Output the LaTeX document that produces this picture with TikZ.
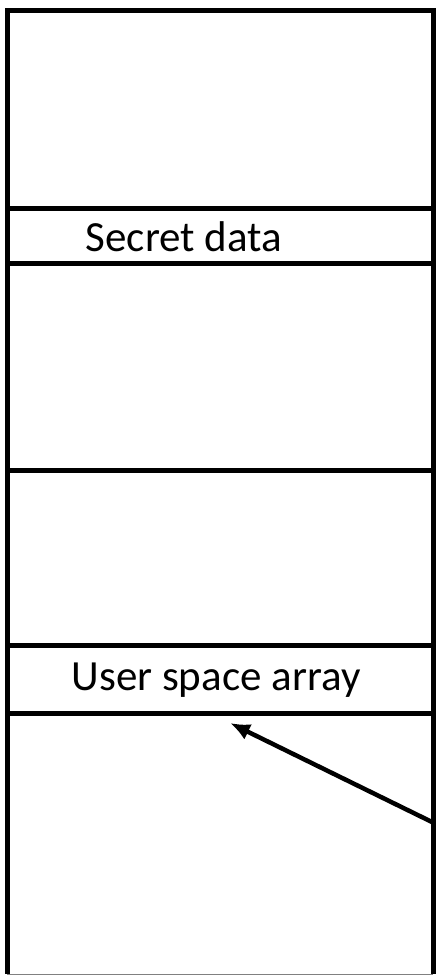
\documentclass[tikz,border=0pt]{standalone}
\usepackage{fontspec}
\setmainfont{Carlito}
\usetikzlibrary{arrows.meta, positioning}
\tikzstyle{region}=[rectangle, minimum width=426pt, inner sep=0pt, outer sep=0pt,
  draw=black, line width=5pt]
\tikzstyle{label}=[inner sep=0pt, font=\fontsize{43}{50}\selectfont]
\tikzstyle{arrow}=[-{Latex[length=20pt, width=17pt]}, line width=4.5pt]

\begin{document}
\begin{tikzpicture}[node distance=0pt]
  \useasboundingbox (0pt,0pt) rectangle (436pt,-976pt);
  \node[region, minimum height=198pt, anchor=north west] (r1) at (7pt,-11pt) {};
  \node[region, minimum height=54pt, below=of r1] (secret) {};
  \node[region, minimum height=207pt, below=of secret] (r3) {};
  \node[region, minimum height=175pt, below=of r3] (r4) {};
  \node[region, minimum height=68pt, below=of r4] (user) {};
  \node[region, minimum height=261pt, below=of user, draw=none] (r6) {};
  \draw[line width=5pt] (r6.north west) -- (r6.south west);
  \draw[line width=5pt] (r6.north east) -- (r6.south east);
  \draw[gray, line width=1pt] (r6.south west) -- (r6.south east);
  % texts
  \node[label] (secrettext) at ([xshift=-36pt, yshift=-1pt]secret.center) {Secret data};
  \node[label] (usertext) at ([xshift=-4pt, yshift=-1pt]user.center) {User space array};
  % pointer
  \coordinate (src) at ([yshift=21pt]r6.east);
  \coordinate (dst) at ([xshift=10pt, yshift=-10pt]user.south);
  \draw[arrow] (src) -- (dst);
\end{tikzpicture}
\end{document}
